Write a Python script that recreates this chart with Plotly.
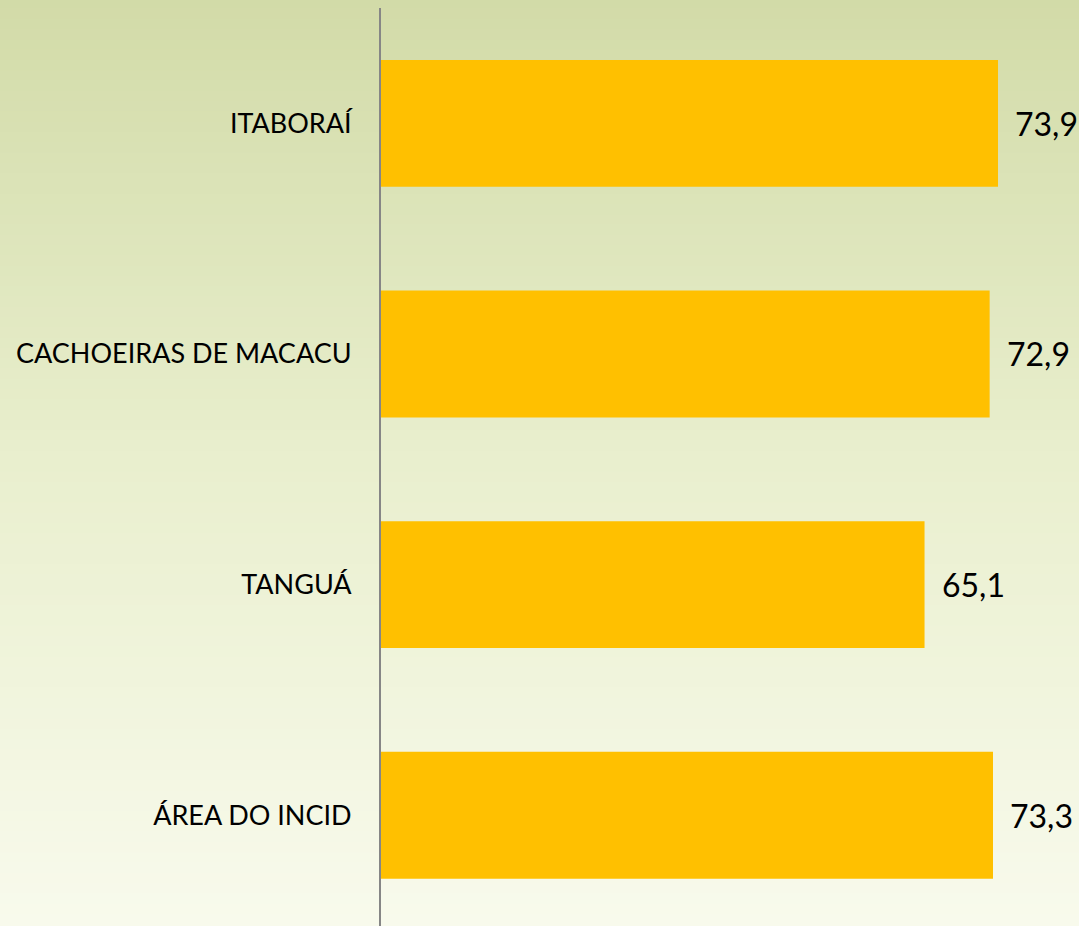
import plotly.graph_objects as go

categories = ["ITABORAÍ", "CACHOEIRAS DE MACACU", "TANGUÁ", "ÁREA DO INCID"]
values = [73.9, 72.9, 65.1, 73.3]
positions = list(range(len(categories)))
value_labels = [f"{v:.1f}".replace(".", ",") for v in values]

FONT = "Lato"

fig = go.Figure()
fig.add_trace(go.Bar(
    x=values, y=positions, orientation="h",
    width=0.55, marker=dict(color="#FFC000", line=dict(width=0)),
    hoverinfo="skip", showlegend=False,
))

for v, p, t in zip(values, positions, value_labels):
    fig.add_annotation(x=v, y=p, text=t, showarrow=False, xanchor="left",
                       yanchor="middle", xshift=15,
                       font=dict(family=FONT, size=32, color="#000000"))

# vertical gradient background via stripes
top = (210, 219, 168)
mid = (233, 239, 206)
bot = (248, 250, 236)
n = 90
shapes = []
for i in range(n):
    f = i / (n - 1)
    if f < 0.5:
        g = f / 0.5
        c = tuple(round(top[k] + (mid[k] - top[k]) * g) for k in range(3))
    else:
        g = (f - 0.5) / 0.5
        c = tuple(round(mid[k] + (bot[k] - mid[k]) * g) for k in range(3))
    y1 = 1 - i / n
    y0 = 1 - (i + 1) / n
    shapes.append(dict(type="rect", xref="paper", yref="paper", x0=-1, x1=2,
                       y0=(y0 * 926) / 918, y1=(y1 * 926) / 918 + 0.002,
                       fillcolor=f"rgb{c}", line=dict(width=0), layer="below"))

fig.update_layout(
    width=1079, height=926,
    margin=dict(l=381, r=0, t=8, b=0),
    paper_bgcolor="rgb(248,250,236)",
    plot_bgcolor="rgba(0,0,0,0)",
    shapes=shapes,
    xaxis=dict(range=[0, 83.6], visible=False, fixedrange=True),
    yaxis=dict(
        range=[3.48, -0.5], tickvals=positions, ticktext=categories,
        showgrid=False, zeroline=False, showline=True, linecolor="#868686",
        linewidth=2, ticks="", ticklabelstandoff=22,
        tickfont=dict(family=FONT, size=27, color="#000000"),
    ),
)

fig.write_html("out.html", config={"displayModeBar": False},
               post_script="document.body.style.margin='0';document.body.style.overflow='hidden';")
